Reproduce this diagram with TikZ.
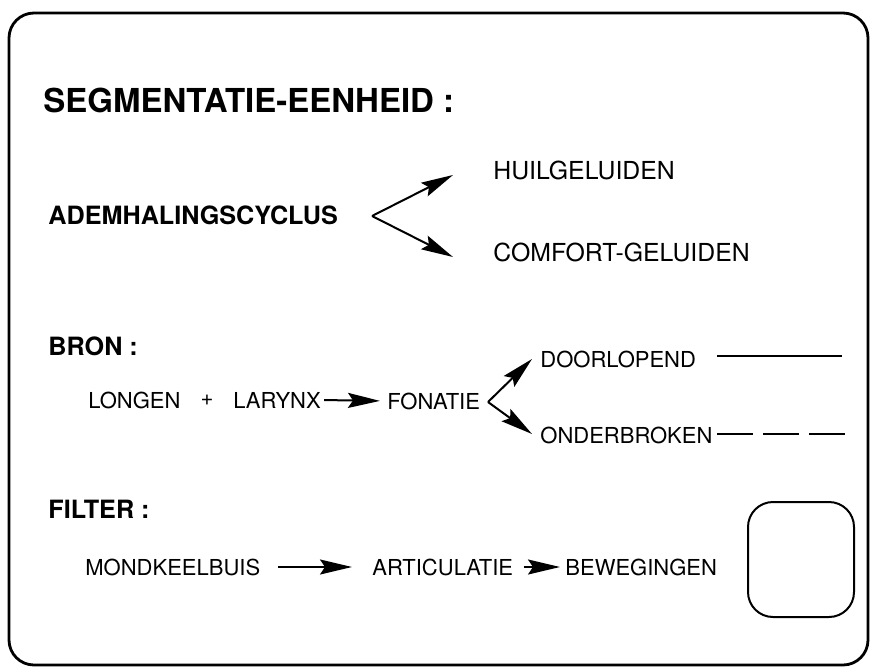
\documentclass[tikz,border=0pt]{standalone}
\usepackage{fontspec}
\setmainfont{TeX Gyre Heros}
\usepackage{tikz}
\usetikzlibrary{arrows.meta}

\tikzset{
  txt/.style={anchor=west,inner sep=0pt,font=\fontsize{11}{13}\selectfont},
  bigtxt/.style={txt,font=\fontsize{12.4}{15}\selectfont},
  head/.style={txt,font=\fontsize{12.6}{15}\selectfont\bfseries},
  arr/.style={line width=1pt,-{Stealth[length=16pt,width=7.5pt,inset=2.5pt]}}
}

\begin{document}
\begin{tikzpicture}[x=0.5pt,y=-0.5pt]
\useasboundingbox (0,0) rectangle (871,668);

%kader
\draw[line width=1.4pt,rounded corners=12.5pt] (9,13) rectangle (868,665);

%segmentatie
\node[txt,font=\fontsize{16.5}{20}\selectfont\bfseries] (titel) at (43,100) {SEGMENTATIE-EENHEID :};
\node[head] (adem) at (48,215) {ADEMHALINGSCYCLUS};
\node[bigtxt] (huil) at (493,170) {HUILGELUIDEN};
\node[bigtxt] (comfort) at (493,252) {COMFORT-GELUIDEN};
\coordinate (splits1) at (372,216);
\coordinate (huilpijl) at (453,175);
\coordinate (comfortpijl) at (453,257);
\draw[arr] (splits1) -- (huilpijl);
\draw[arr] (splits1) -- (comfortpijl);

%bron
\node[head] (bron) at (48,346) {BRON :};
\node[txt] (longen) at (88,400) {LONGEN};
\node[txt,anchor=center] (plus) at (207,400) {+};
\node[txt] (larynx) at (233,400) {LARYNX};
\node[txt] (fonatie) at (387,401) {FONATIE};
\node[txt] (door) at (540,359) {DOORLOPEND};
\node[txt] (onder) at (540,435) {ONDERBROKEN};
\draw[arr,shorten <=1.5pt,shorten >=3.5pt] (larynx.east) -- (fonatie.west);
\coordinate (splits2) at (488,402);
\coordinate (doorpijl) at (532,359);
\coordinate (onderpijl) at (532,434);
\draw[arr] (splits2) -- (doorpijl);
\draw[arr] (splits2) -- (onderpijl);
\draw[line width=1pt] (717,356) -- (842,356);
\draw[line width=1pt,dash pattern=on 18pt off 5pt] (717,434) -- (847,434);

%filter
\node[head] (filter) at (48,509) {FILTER :};
\node[txt] (mond) at (85,567) {MONDKEELBUIS};
\node[txt] (artic) at (372,567) {ARTICULATIE};
\node[txt] (beweg) at (565,567) {BEWEGINGEN};
\draw[arr,shorten <=8.5pt,shorten >=10pt] (mond.east) -- (artic.west);
\draw[arr,shorten <=5pt,shorten >=2.5pt] (artic.east) -- (beweg.west);
\draw[line width=1pt,rounded corners=12.5pt] (748,502) rectangle (854,617);

\end{tikzpicture}
\end{document}
